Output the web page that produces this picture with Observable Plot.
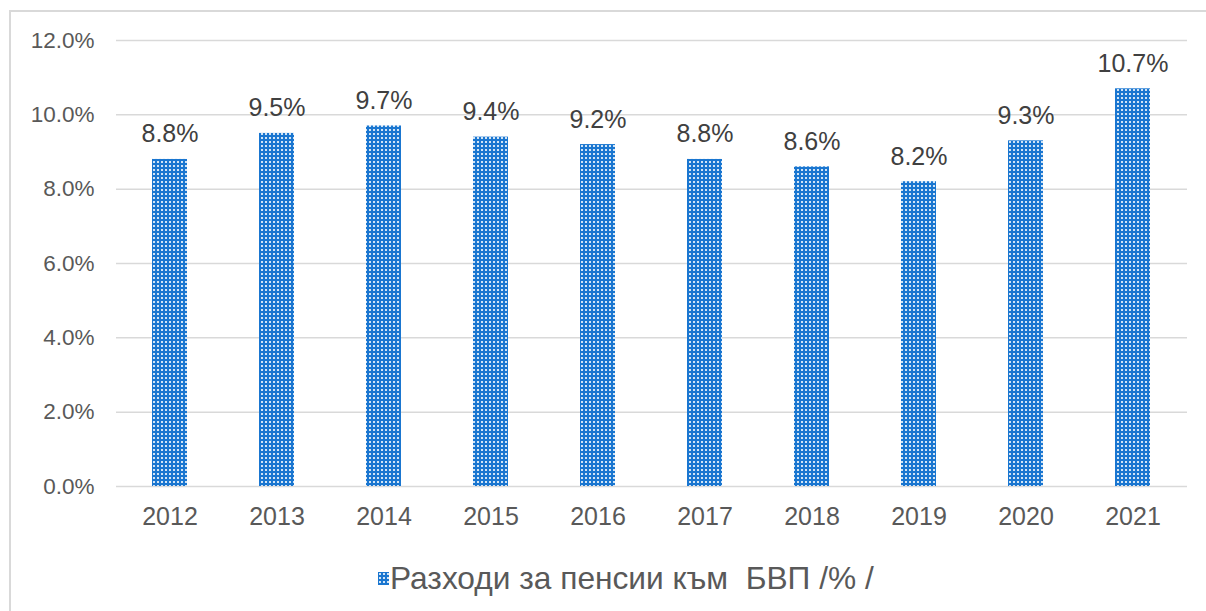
<!DOCTYPE html>
<html>
<head>
<meta charset="utf-8">
<script src="https://cdn.jsdelivr.net/npm/d3@7"></script>
<script src="https://cdn.jsdelivr.net/npm/@observablehq/plot@0.6"></script>
<style>
  html, body { margin: 0; padding: 0; background: #fff; overflow: hidden; }
  body { width: 1206px; height: 611px; position: relative; font-family: "Liberation Sans", Arial, sans-serif; }
  #frame { position: absolute; left: 9px; top: 10px; width: 1220px; height: 640px; border: 2px solid #d9d9d9; box-sizing: border-box; }
  #chart { position: absolute; left: 0; top: 0; }
  #legend { position: absolute; left: 378px; top: 561px; height: 34px; display: flex; align-items: center; font-size: 31.7px; line-height: 34px; color: #595959; white-space: pre; }
  #legend svg { margin-right: 1px; }
</style>
</head>
<body>
<div id="frame"></div>
<div id="chart"></div>
<div id="legend"></div>
<script>
const years = ["2012","2013","2014","2015","2016","2017","2018","2019","2020","2021"];
const values = [8.8, 9.5, 9.7, 9.4, 9.2, 8.8, 8.6, 8.2, 9.3, 10.7];
const yTicks = [0, 2, 4, 6, 8, 10, 12];
const seriesName = "Разходи за пенсии към  БВП /% /";

const data = years.map((y, i) => ({year: y, value: values[i]}));

const patternDefs = `
  <pattern id="dots" patternUnits="userSpaceOnUse" width="4" height="4">
    <rect width="4" height="4" fill="#1a76d0"></rect>
    <rect x="1" y="1" width="2" height="2" fill="#ffffff" fill-opacity="0.8"></rect>
  </pattern>`;

const plot = Plot.plot({
  width: 1206,
  height: 540,
  marginTop: 40,
  marginBottom: 54,
  marginLeft: 116,
  marginRight: 19,
  style: { fontFamily: "'Liberation Sans', Arial, sans-serif", background: "transparent" },
  x: { domain: years, paddingInner: 0.67, paddingOuter: 0.335, label: null },
  y: { domain: [0, 12], label: null },
  marks: [
    Plot.ruleY(yTicks, { stroke: "#d9d9d9", strokeWidth: 1.5 }),
    Plot.barY(data, { x: "year", y: "value", fill: "url(#dots)" }),
    Plot.text(data, {
      x: "year", y: "value",
      text: d => d.value.toFixed(1) + "%",
      lineAnchor: "bottom", dy: -17,
      fontSize: 25, fill: "#404040"
    }),
    Plot.axisY(yTicks, {
      tickSize: 0, tickPadding: 22, fontSize: 22.5, fill: "#595959",
      tickFormat: d => d.toFixed(1) + "%", label: null
    }),
    Plot.axisX({
      tickSize: 0, tickPadding: 21, fontSize: 25, fill: "#595959", label: null
    })
  ]
});

const defs = document.createElementNS("http://www.w3.org/2000/svg", "defs");
defs.innerHTML = patternDefs;
plot.insertBefore(defs, plot.firstChild);
document.getElementById("chart").appendChild(plot);

// Legend
const legend = document.getElementById("legend");
legend.innerHTML = `<svg width="11" height="13" viewBox="0 0 11 13"><defs>${patternDefs.replace('id="dots"','id="dots2"')}</defs><rect width="11" height="13" fill="url(#dots2)"></rect></svg><span>${seriesName}</span>`;
</script>
</body>
</html>
